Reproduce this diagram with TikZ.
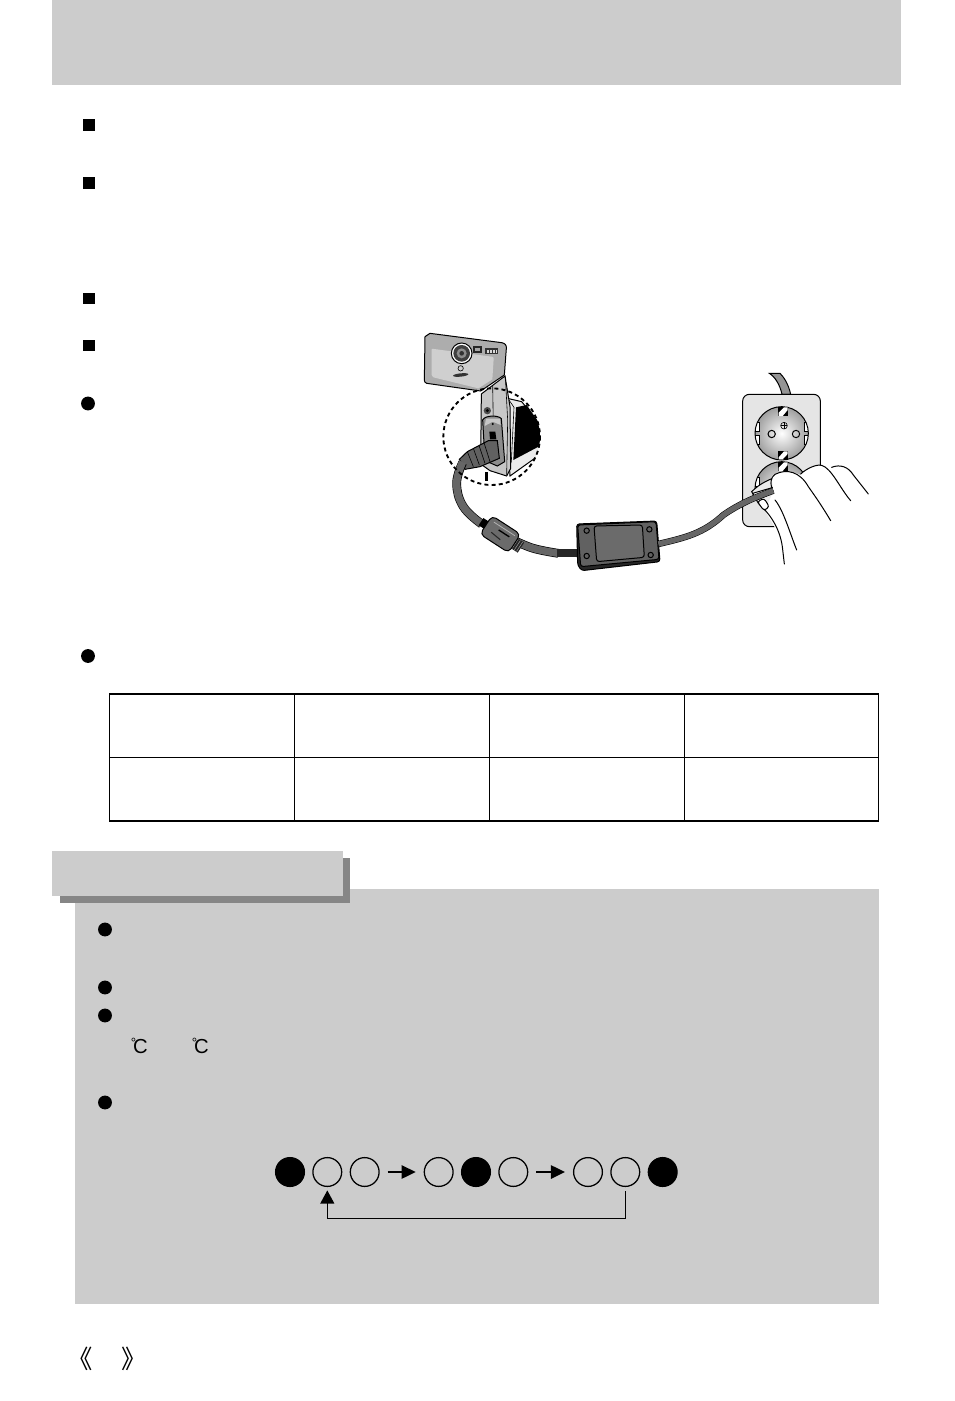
\documentclass[tikz,border=0pt]{standalone}
\usepackage{fontspec}
\usetikzlibrary{arrows.meta,calc}
\setmainfont{Liberation Sans}
\newfontfamily\cjkfont{Noto Sans CJK SC}
\definecolor{pagegray}{HTML}{CCCCCC}
\definecolor{shadowgray}{HTML}{868686}
\tikzset{
  band/.style={fill=pagegray,draw=none},
  squarebullet/.style={fill=black,minimum size=8.4pt,inner sep=0pt,rectangle},
  roundbullet/.style={fill=black,circle,minimum size=10.4pt,inner sep=0pt},
  lampon/.style={circle,draw=black,fill=black,line width=.95pt,minimum size=21.6pt,inner sep=0pt},
  lampoff/.style={circle,draw=black,line width=.95pt,minimum size=21.6pt,inner sep=0pt},
  flow/.style={line width=1.2pt,-{Triangle[length=10.5pt,width=10pt]},shorten <=6pt,shorten >=6pt},
  backflow/.style={line width=1.1pt,-{Triangle[length=10pt,width=10.5pt]},shorten <=3pt,shorten >=2.5pt},
  tableheavy/.style={line width=1.5pt,line cap=rect},
  tablethin/.style={line width=.8pt},
  thin line/.style={line width=.45pt,black},
  mid line/.style={line width=.75pt,black},
  zoomA/.style={shift={(410,320)},x=.25pt,y=-.25pt},
  zoomB/.style={shift={(640,360)},x=.25pt,y=-.25pt},
}
\begin{document}
\begin{tikzpicture}[x=.75pt,y=-.75pt]
\useasboundingbox (0,0) rectangle (954,1401);
\fill[white] (0,0) rectangle (954,1401);
% header
\fill[band] (52,0) rectangle (901,85.5);
% bullets
\node[squarebullet] (s1) at (89,125) {};
\node[squarebullet] (s2) at (89,183) {};
\node[squarebullet] (s3) at (89,298.5) {};
\node[squarebullet] (s4) at (89,345.5) {};
\node[roundbullet] (r1) at (88,403.5) {};
\node[roundbullet] (r2) at (88,656) {};
% table
\draw[tablethin] (109.5,757.3) -- (878.3,757.3);
\foreach \xx in {294.3,489.3,684.3} \draw[tablethin] (\xx,694) -- (\xx,820.7);
\draw[tablethin,line width=1pt] (109.6,694) -- (109.6,820.7);
\draw[tablethin,line width=1pt] (878.2,694) -- (878.2,820.7);
\draw[tableheavy] (109.5,694) -- (878.3,694);
\draw[tableheavy] (109.5,820.8) -- (878.3,820.8);
% note panel
\fill[band] (75,889) rectangle (879,1303.5);
\fill[shadowgray] (60,858) rectangle (350,903);
\fill[pagegray] (52,851) rectangle (343,896);
\node[roundbullet] (n1) at (105,929.5) {};
\node[roundbullet] (n2) at (105,987.5) {};
\node[roundbullet] (n3) at (105,1015.5) {};
\node[roundbullet] (n4) at (105,1102.5) {};
% degree labels
\node[inner sep=0pt,anchor=base west] (deg1) at (130.5,1053) {\fontsize{10}{10}\selectfont\raisebox{4.5pt}{°}\kern-2.2pt\fontsize{15.2}{15.2}\selectfont C};
\node[inner sep=0pt,anchor=base west] (deg2) at (191.5,1053) {\fontsize{10}{10}\selectfont\raisebox{4.5pt}{°}\kern-2.2pt\fontsize{15.2}{15.2}\selectfont C};
% lamps
\node[lampon]  (c1) at (290,1172) {};
\node[lampoff] (c2) at (327.3,1172) {};
\node[lampoff] (c3) at (364.7,1172) {};
\node[lampoff] (c4) at (438.7,1172) {};
\node[lampon]  (c5) at (476,1172) {};
\node[lampoff] (c6) at (513.3,1172) {};
\node[lampoff] (c7) at (588,1172) {};
\node[lampoff] (c8) at (625.3,1172) {};
\node[lampon]  (c9) at (662.7,1172) {};
\coordinate (backmid) at (476,1218.7);
\draw[flow] (c3) -- (c4);
\draw[flow] (c6) -- (c7);
\draw[backflow] (c8.south) |- (backmid) -| (c2.south);
% page marks
\node[inner sep=0pt] (pl) at (80,1359) {\cjkfont\fontsize{19}{19}\selectfont 《};
\node[inner sep=0pt] (pr) at (134,1359) {\cjkfont\fontsize{19}{19}\selectfont 》};

% ---------- camera illustration
\begin{scope}[zoomA]
  % side of camera
  \begin{scope}
    \clip (245,350) circle (145);
    \fill[white] (245,350) circle (145);
    \draw[mid line,fill=black!8] (292,235) -- (335,245) -- (395,320) -- (395,400) -- (300,468) -- (290,300) -- cycle;
    \fill[black] (318,262) -- (350,255) -- (395,320) -- (395,375) -- (310,420) -- cycle;
    \draw[thin line] (297,240) -- (312,262) -- (304,425) -- (296,445);
    \fill[black] (225,455) rectangle (234,482);
  \end{scope}
  \draw[mid line,fill=black!22] (214,222) -- (285,168) -- (300,260) -- (302,445) -- (290,468) -- (240,452) -- (212,432) -- cycle;
  \draw[thin line] (248,195) -- (250,320);
  \draw[thin line] (286,170) -- (293,300) -- (290,465);
  \fill[black!70] (232,272) circle (11);
  \fill[black] (232,272) circle (5);
  \draw[mid line,fill=black!45] (218,300) .. controls (225,285) and (265,285) .. (274,296) -- (284,425) -- (262,438) -- (225,422) -- cycle;
  \fill[black!22] (228,296) -- (270,296) -- (272,315) -- (248,305) -- (224,318) -- cycle;
  \fill[black] (248,312) circle (3.5);
  \fill[black] (238,335) -- (256,335) -- (259,358) -- (240,358) -- cycle;
  % front of camera
  \draw[mid line,fill=black!32] (45,50) -- (60,40) -- (275,68) .. controls (285,70) and (290,75) .. (289,85)
     -- (283,165) -- (212,213) -- (50,190) .. controls (45,188) and (43,185) .. (43,180) -- cycle;
  \fill[black!19] (65,88) .. controls (65,86) and (70,86) .. (72,87) -- (245,110) .. controls (250,111) and (251,112) .. (251,116)
     -- (247,178) -- (205,205) -- (70,172) -- (65,165) -- cycle;
  \draw[mid line,fill=white] (155,100) circle (31);
  \fill[black!75] (155,100) circle (25);
  \fill[black!45] (155,100) circle (15);
  \fill[black!80] (155,100) circle (7);
  \fill[black!85] (190,78) rectangle (216,98);
  \fill[black!35] (196,83) rectangle (210,93);
  \fill[black!80] (225,85) rectangle (265,103);
  \foreach \xx in {232,241,250,258} \fill[black!15] (\xx,89) rectangle (\xx+4,99);
  \draw[thin line] (152,145) circle (8);
  \fill[black!80,rotate around={6:(152,165)}] (152,165) ellipse (23 and 5);
  % plug
  \draw[mid line,fill=black!62] (148,418) -- (172,395) -- (235,362) -- (262,362) -- (268,415) -- (210,440) -- (165,448) -- cycle;
  \foreach \xa/\ya/\xb/\yb in {172/395/190/440,190/385/208/435,207/376/225/430,222/368/240/425}
    \draw[thin line] (\xa,\ya) -- (\xb,\yb);
  % cable to adapter
  \draw[black,line width=6.6pt] plot[smooth,tension=.7] coordinates {(158,428) (140,490) (160,560) (215,612)};
  \draw[black!60,line width=5.6pt] plot[smooth,tension=.7] coordinates {(158,426) (140,490) (160,560) (215,612)};
  \draw[black,line width=6.6pt] plot[smooth,tension=.7] coordinates {(310,660) (370,685) (445,700)};
  \draw[black!60,line width=5.6pt] plot[smooth,tension=.7] coordinates {(310,660) (370,685) (445,700)};
  \fill[black!85] (440,688) rectangle (502,712);
  % ferrite
  \begin{scope}[shift={(270,642)},rotate=-33]
    \fill[black] (-68,-13) rectangle (-48,13);
    \fill[black!85] (48,-18) rectangle (75,18);
    \foreach \xx in {54,62,70} \draw[black!40,line width=.4pt] (\xx,-17) -- (\xx,17);
    \draw[mid line,fill=black!58,rounded corners=3.5pt] (-50,-33) rectangle (52,33);
    \draw[black,line width=1pt] (-10,-8) -- (28,-8);
    \draw[black!85,line width=.8pt] (-25,10) -- (10,14);
    \draw[black!30,line width=.6pt] (-35,-20) -- (40,-20);
  \end{scope}
  % adapter
  \draw[mid line,fill=black!85,rounded corners=2pt] (500,612) -- (740,603) -- (750,725) -- (515,752) -- (503,735) -- cycle;
  \draw[mid line,fill=black!62,rounded corners=2pt] (503,615) -- (738,605) -- (747,718) -- (512,740) -- cycle;
  \draw[mid line,fill=black!58,rounded corners=2pt] (552,618) -- (697,615) -- (703,712) -- (560,725) -- cycle;
  \foreach \xx/\yy in {530/632,718/628,530/708,722/705}
    \draw[mid line] (\xx,\yy) circle (8);
  % dashed ring
  \draw[black,line width=1.4pt,dash pattern=on 3pt off 2.4pt] (245,350) circle (145);
\end{scope}

% ---------- outlet and hand
\begin{scope}[zoomB]
  \draw[mid line,fill=black!42] (388,40) .. controls (405,50) and (420,75) .. (426,103) -- (452,103) .. controls (445,70) and (430,50) .. (420,40) -- cycle;
  \draw[mid line,fill=black!10,rounded corners=5pt] (308,103) rectangle (541,500);
  \foreach \yy in {220,385} {
    \shade[inner color=white,outer color=black!38] (425,\yy) circle (80);
    \begin{scope}
      \clip (425,\yy) circle (80);
      \foreach \sx/\sy in {345/-33,345/34,505/-33,505/34} {
        \ifnum\sx=345
          \fill[white,draw=black,line width=.4pt] (340,\yy+\sy) -- (358,\yy+\sy) -- (358,\yy+\sy*.2) -- (340,\yy+\sy*.2) -- cycle;
        \else
          \fill[white,draw=black,line width=.4pt] (510,\yy+\sy) -- (492,\yy+\sy) -- (492,\yy+\sy*.2) -- (510,\yy+\sy*.2) -- cycle;
        \fi
      }
    \end{scope}
    \draw[mid line] (425,\yy) circle (80);
    \fill[black] (413,\yy-78) rectangle (443,\yy-52);
    \fill[white] (416,\yy-62) -- (432,\yy-78) -- (443,\yy-78) -- (443,\yy-70) -- (428,\yy-52) -- (416,\yy-52) -- cycle;
    \fill[black] (413,\yy+52) rectangle (443,\yy+78);
    \fill[white] (416,\yy+72) -- (432,\yy+54) -- (443,\yy+54) -- (443,\yy+62) -- (428,\yy+78) -- (416,\yy+78) -- cycle;
  }
  \draw[mid line] (395,222) circle (11);
  \draw[mid line] (468,222) circle (11);
  \draw[thin line] (432,197) circle (10);
  \draw[thin line] (422,197) -- (442,197) (432,187) -- (432,207);
  % plug under the hand
  \draw[mid line,fill=black!8] (335,395) .. controls (360,370) and (385,360) .. (410,350) -- (420,430) -- (395,470) -- (355,430) -- cycle;
  \draw[mid line,fill=white] (338,400) -- (400,382) -- (402,398) -- (350,420) -- cycle;
  % hand
  \fill[white] (395,350) .. controls (410,330) and (450,330) .. (482,345)
     .. controls (500,320) and (540,310) .. (575,320)
     .. controls (600,310) and (625,320) .. (650,360) -- (685,400) -- (690,610) -- (435,612)
     .. controls (425,560) and (415,510) .. (385,470) -- (375,450) -- (400,395) -- cycle;
  \draw[mid line,line cap=round] (400,395) .. controls (388,370) and (392,352) .. (405,343)
     .. controls (440,325) and (480,335) .. (505,380) .. controls (530,415) and (550,445) .. (572,482);
  \draw[mid line,line cap=round] (482,342) .. controls (500,325) and (530,312) .. (545,316)
     .. controls (575,325) and (600,385) .. (632,422);
  \draw[mid line,line cap=round] (575,322) .. controls (600,312) and (625,320) .. (640,345) -- (685,402);
  \draw[mid line,line cap=round] (370,445) .. controls (395,470) and (420,510) .. (427,560) -- (433,612);
  \draw[mid line,line cap=round] (405,420) .. controls (430,450) and (450,520) .. (470,570);
  \draw[mid line,fill=white,rounded corners=2pt] (352,425) -- (372,415) -- (388,440) -- (372,452) -- cycle;
  % cable
  \draw[black,line width=4.8pt] (55,552) .. controls (140,532) and (190,520) .. (250,465) .. controls (300,430) and (350,410) .. (400,392);
  \draw[black!60,line width=4pt] (55,552) .. controls (140,532) and (190,520) .. (250,465) .. controls (300,430) and (350,410) .. (400,392);
\end{scope}
\end{tikzpicture}
\end{document}
